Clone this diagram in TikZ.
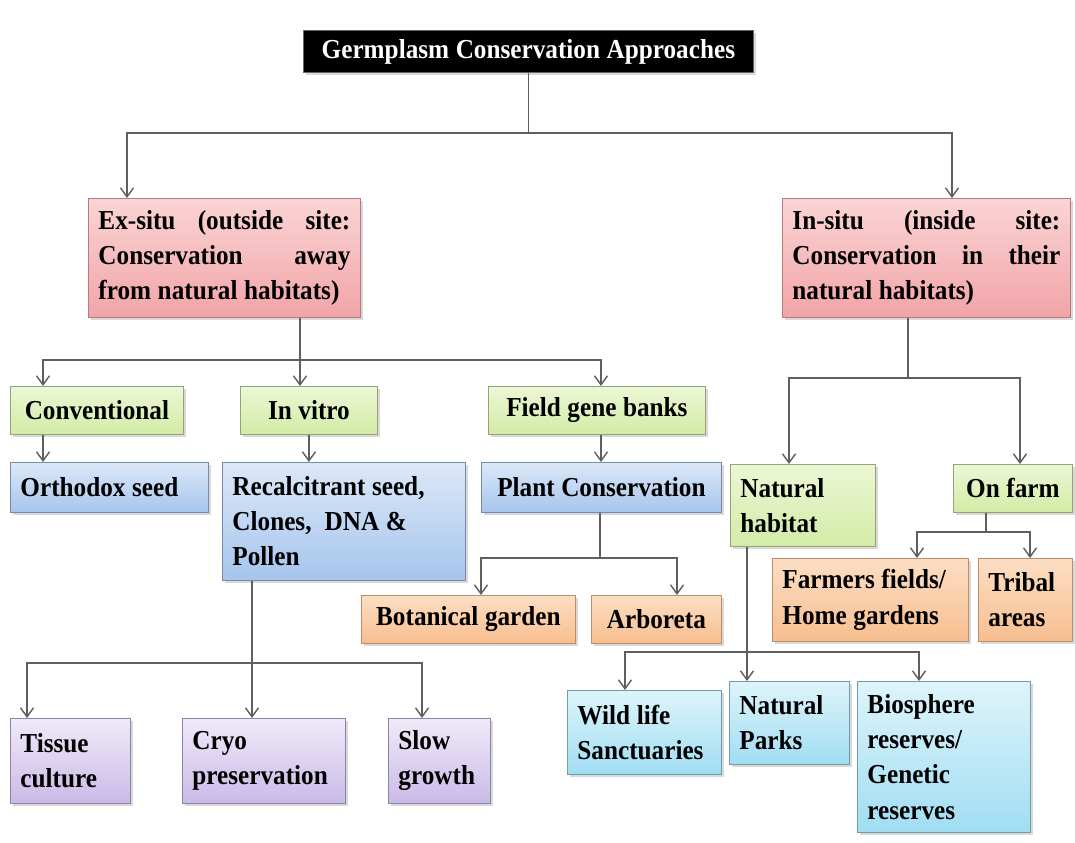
\documentclass[tikz,border=0pt]{standalone}
\usepackage{fontspec}
\setmainfont{Liberation Serif}[FakeStretch=0.92, WordSpace=0.8]
\usepackage{tikz}
\usetikzlibrary{arrows.meta, shadows}
\definecolor{edge}{RGB}{95, 95, 95}
\definecolor{pinktop}{RGB}{250, 212, 212}
\definecolor{pinkbot}{RGB}{242, 164, 168}
\definecolor{greentop}{RGB}{236, 247, 214}
\definecolor{greenbot}{RGB}{211, 235, 166}
\definecolor{bluetop}{RGB}{220, 232, 248}
\definecolor{bluebot}{RGB}{166, 197, 237}
\definecolor{orangetop}{RGB}{252, 222, 196}
\definecolor{orangebot}{RGB}{247, 190, 143}
\definecolor{lilactop}{RGB}{240, 234, 249}
\definecolor{lilacbot}{RGB}{202, 186, 231}
\definecolor{cyantop}{RGB}{222, 244, 251}
\definecolor{cyanbot}{RGB}{160, 221, 242}

\begin{document}
\begin{tikzpicture}[x=0.02cm, y=-0.02cm,
  box/.style={anchor=north west, align=left, inner xsep=0.2cm, inner ysep=0.1cm,
    line width=0.5pt, font=\bfseries\fontsize{15.6}{20}\selectfont,
    execute at begin node={\spaceskip=0.24em\relax},
    drop shadow={opacity=0.3, shadow xshift=0.05cm, shadow yshift=-0.06cm}},
  wh/.style 2 args={text width=#1, minimum height=#2},
  sz/.style 2 args={minimum width=#1, minimum height=#2},
  pinkbox/.style={box, top color=pinktop, bottom color=pinkbot, draw=pinkbot!75!black},
  greenbox/.style={box, top color=greentop, bottom color=greenbot, draw=greenbot!70!black},
  bluebox/.style={box, top color=bluetop, bottom color=bluebot, draw=bluebot!70!black},
  orangebox/.style={box, top color=orangetop, bottom color=orangebot, draw=orangebot!75!black},
  lilacbox/.style={box, top color=lilactop, bottom color=lilacbot, draw=lilacbot!70!black},
  cyanbox/.style={box, top color=cyantop, bottom color=cyanbot, draw=cyanbot!70!black},
  ln/.style={draw=edge, line width=0.8pt},
  arr/.style={ln, -{Straight Barb[length=1.8mm, width=2.6mm]}}]

  \useasboundingbox (0,0) rectangle (1075,842);

  \node[box, fill=black, text=white, draw=black!60, sz={9cm}{0.84cm}] (title) at (303,30)
    {Germplasm Conservation Approaches};

  \node[pinkbox, wh={5.04cm}{2.38cm}] (exsitu) at (88,198)
    {Ex-situ\hfill(outside\hfill site:\\Conservation\hfill away\\from natural habitats)};
  \node[pinkbox, wh={5.36cm}{2.38cm}] (insitu) at (782,198)
    {In-situ\hfill(inside\hfill site:\\Conservation\hfill in\hfill their\\natural habitats)};

  % ex-situ side
  \node[greenbox, sz={3.46cm}{0.96cm}] (conv) at (10,386) {Conventional};
  \node[greenbox, sz={2.74cm}{0.96cm}] (invitro) at (240,386) {In vitro};
  \node[greenbox, sz={4.34cm}{0.96cm}] (fieldgb) at (488,386) {Field gene banks};

  \node[bluebox, wh={3.56cm}{1.0cm}] (orthodox) at (10,462) {Orthodox seed};
  \node[bluebox, wh={4.46cm}{2.36cm}] (recalc) at (222,462)
    {Recalcitrant seed,\\Clones,\ \ DNA \&\\Pollen};
  \node[bluebox, sz={4.8cm}{1.0cm}] (plantcons) at (481,462) {Plant Conservation};

  \node[orangebox, sz={4.28cm}{0.96cm}] (botan) at (361,595) {Botanical garden};
  \node[orangebox, sz={2.6cm}{0.96cm}] (arbor) at (591,595) {Arboreta};

  \node[lilacbox, wh={2.0cm}{1.7cm}] (tissue) at (10,718) {Tissue\\culture};
  \node[lilacbox, wh={2.86cm}{1.7cm}] (cryo) at (182,718) {Cryo\\preservation};
  \node[lilacbox, wh={1.64cm}{1.7cm}] (slow) at (388,718) {Slow\\growth};

  % in-situ side
  \node[greenbox, wh={2.5cm}{1.64cm}] (nathab) at (730,464) {Natural\\habitat};
  \node[greenbox, sz={2.38cm}{0.96cm}] (onfarm) at (953,464) {On farm};

  \node[orangebox, wh={3.52cm}{1.66cm}] (farmers) at (772,558) {Farmers fields/\\Home gardens};
  \node[orangebox, wh={1.48cm}{1.66cm}] (tribal) at (978,558) {Tribal\\areas};

  \node[cyanbox, wh={2.68cm}{1.68cm}] (wild) at (567,690) {Wild life\\Sanctuaries};
  \node[cyanbox, wh={2.0cm}{1.66cm}] (natparks) at (729,681) {Natural\\Parks};
  \node[cyanbox, wh={3.06cm}{3.02cm}] (biosph) at (857,681)
    {Biosphere\\reserves/\\Genetic\\reserves};

  % connectors
  \draw[ln] (title.south) -- (title.south |- 0,133) coordinate (tbar);
  \draw[arr] (tbar) -| (exsitu.north -| 127,0);
  \draw[arr] (tbar) -| (insitu.north -| 952,0);

  \draw[ln] (exsitu.south -| 300,0) -- (300,360) coordinate (xbar);
  \draw[arr] (xbar) -| (conv.north -| 43,0);
  \draw[arr] (xbar) -- (invitro.north -| 300,0);
  \draw[arr] (xbar) -| (fieldgb.north -| 601,0);

  \draw[arr] (conv.south -| 43,0) -- (orthodox.north -| 43,0);
  \draw[arr] (invitro.south) -- (invitro.south |- recalc.north);
  \draw[arr] (fieldgb.south -| 601,0) -- (plantcons.north -| 601,0);

  \draw[ln] (plantcons.south -| 600,0) -- (600,558) coordinate (pbar);
  \draw[arr] (pbar) -| (botan.north -| 481,0);
  \draw[arr] (pbar) -| (arbor.north -| 677,0);

  \draw[arr] (recalc.south -| 252,0) -- (cryo.north -| 252,0);
  \coordinate (rbar) at (252,663);
  \draw[arr] (rbar) -| (tissue.north -| 27,0);
  \draw[arr] (rbar) -| (slow.north -| 422,0);

  \draw[ln] (insitu.south -| 908,0) -- (908,378) coordinate (ibar);
  \draw[arr] (ibar) -| (nathab.north -| 789,0);
  \draw[arr] (ibar) -| (onfarm.north -| 1020,0);

  \draw[ln] (onfarm.south -| 986,0) -- (986,532) coordinate (obar);
  \draw[arr] (obar) -| (farmers.north -| 917,0);
  \draw[arr] (obar) -| (tribal.north -| 1030,0);

  \draw[arr] (nathab.south -| 747,0) -- (natparks.north -| 747,0);
  \coordinate (nbar) at (747,652);
  \draw[arr] (nbar) -| (wild.north -| 625,0);
  \draw[arr] (nbar) -| (biosph.north -| 919,0);

\end{tikzpicture}
\end{document}
